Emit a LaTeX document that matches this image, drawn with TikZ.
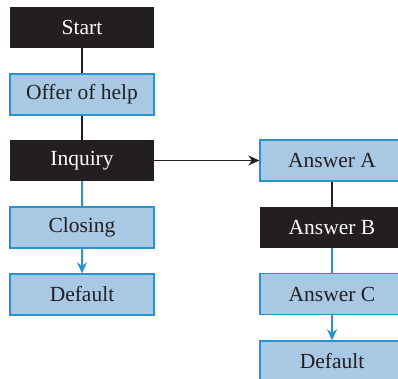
\documentclass[tikz,border=0pt]{standalone}
\usepackage{fontspec}
\setmainfont{Liberation Serif}
\usetikzlibrary{arrows.meta}
\definecolor{darkbox}{HTML}{231F20}
\definecolor{lightfill}{HTML}{A9C8E4}
\definecolor{bluedge}{HTML}{2B93CB}
\begin{document}
\begin{tikzpicture}[x=1pt,y=1pt,
  box/.style={minimum width=144pt,minimum height=41pt,inner sep=0pt,font=\fontsize{21.5}{24}\selectfont},
  darkb/.style={box,fill=darkbox,text=white},
  lightb/.style={box,fill=lightfill,draw=bluedge,line width=1.3pt,text=darkbox},
  blk/.style={draw=darkbox,line width=1.6pt},
  blu/.style={draw=bluedge,line width=1.6pt},
  tip/.style={-{Stealth[length=11pt,width=10pt,inset=3.5pt]}}]
\useasboundingbox (0,0) rectangle (398,379);
\begin{scope}
\clip (0,0) rectangle (398,379);
\node[darkb] (start) at (82,351.5) {Start};
\node[lightb] (offer) at (82,284.5) {Offer of help};
\node[darkb] (inq) at (82,218.5) {Inquiry};
\node[lightb] (clos) at (82,151.5) {Closing};
\node[lightb] (def1) at (82,84.5) {Default};
\node[lightb] (ansa) at (332,218.5) {Answer A};
\node[darkb] (ansb) at (332,151.5) {Answer B};
\node[lightb] (ansc) at (332,85) {Answer C};
\node[lightb] (def2) at (332,17.5) {Default};
\draw[blk] (start) -- (offer);
\draw[blk] (offer) -- (inq);
\draw[blu] (inq) -- (clos);
\draw[blu,tip,fill=bluedge] (clos) -- (def1);
\draw[blk,tip,fill=darkbox] (inq) -- (ansa);
\draw[blk] (ansa) -- (ansb);
\draw[blu] (ansb) -- (ansc);
\draw[blu,tip,fill=bluedge] (ansc) -- (def2);
\end{scope}
\end{tikzpicture}
\end{document}
